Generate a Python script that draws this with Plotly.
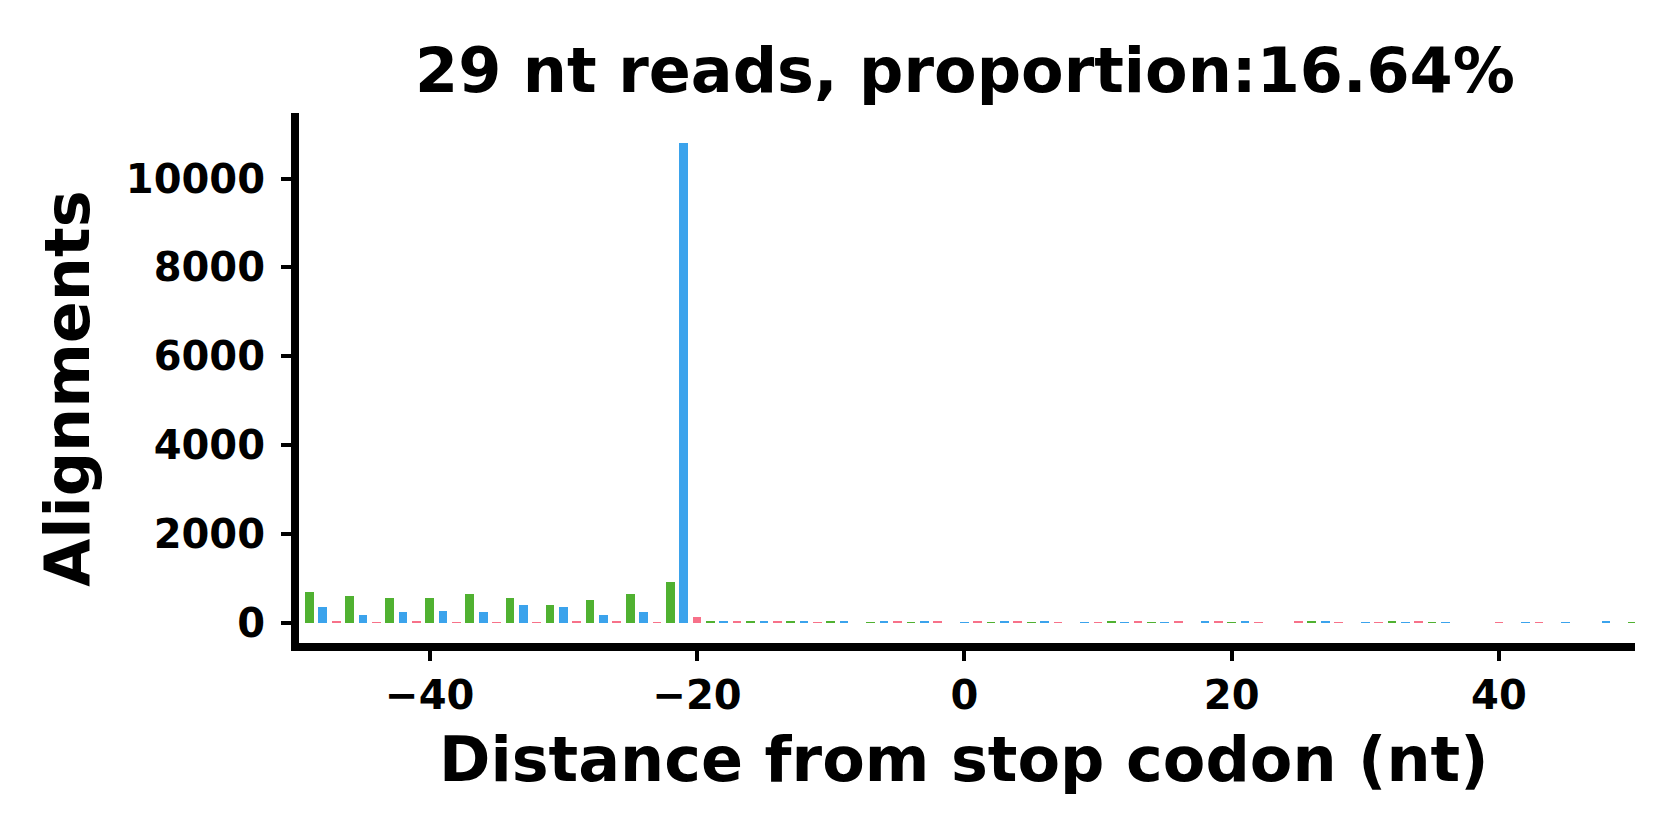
import plotly.graph_objects as go

positions = list(range(-50, 51))
counts = [
    0,                                   # -50
    700, 360, 30, 607, 180, 20, 562, 247, 30, 562,      # -49..-40
    277, 20, 652, 247, 10, 562, 405, 10, 405, 360,      # -39..-30
    35, 510, 180, 35, 652, 247, 20, 922, 10810, 135,    # -29..-20
    45, 25, 25, 25, 25, 25, 25, 45, 10, 25,             # -19..-10
    25, 0, 10, 25, 25, 10, 25, 25, 0, 10,               # -9..0
    25, 10, 25, 25, 10, 25, 10, 0, 10, 10,              # 1..10
    25, 10, 45, 10, 10, 25, 0, 25, 45, 10,              # 11..20
    25, 10, 0, 0, 25, 25, 25, 10, 0, 10,                # 21..30
    10, 25, 10, 45, 10, 10, 0, 0, 0, 10,                # 31..40
    0, 10, 10, 0, 10, 0, 0, 25, 0, 10,                  # 41..50
]
frame_colors = {2: "#50b131", 0: "#3ba3ec", 1: "#f77189"}

title_text = "29 nt reads, proportion:16.64%"
x_label = "Distance from stop codon (nt)"
y_label = "Alignments"
x_ticks = [-40, -20, 0, 20, 40]
x_ticktext = ["\u221240", "\u221220", "0", "20", "40"]
y_ticks = [0, 2000, 4000, 6000, 8000, 10000]
y_ticktext = ["0", "2000", "4000", "6000", "8000", "10000"]

colors = [frame_colors[p % 3] for p in positions]

FONT = "DejaVu Sans"
TICKSIZE = 40

fig = go.Figure()
fig.add_trace(go.Bar(
    x=positions, y=counts, width=0.65,
    marker=dict(color=colors, line=dict(width=0)),
    showlegend=False,
))

axis_common = dict(
    showline=True, linecolor="black", linewidth=8,
    ticks="outside", ticklen=10, tickwidth=3.5, tickcolor="black",
    showgrid=False, zeroline=False,
    tickfont=dict(family=FONT, size=TICKSIZE, color="black", weight="bold"),
)

# page body has an 8px default margin: compensate in the figure margins
fig.update_layout(
    width=1680, height=840,
    margin=dict(l=291, r=53, t=105, b=205),
    paper_bgcolor="white", plot_bgcolor="white",
    xaxis=dict(range=[-49.78, 50.18], tickvals=x_ticks, ticktext=x_ticktext,
               **axis_common),
    yaxis=dict(range=[-450, 11476], tickvals=y_ticks, ticktext=y_ticktext,
               ticklabelstandoff=8, **axis_common),
    bargap=0,
    annotations=[
        dict(text=title_text, xref="paper", yref="paper", x=0.4985, y=1.0802,
             xanchor="center", yanchor="middle", showarrow=False,
             font=dict(family=FONT, size=62, color="black", weight="bold")),
        dict(text=x_label, xref="paper", yref="paper", x=0.4978, y=-0.2189,
             xanchor="center", yanchor="middle", showarrow=False,
             font=dict(family=FONT, size=62, color="black", weight="bold")),
        dict(text=y_label, xref="paper", yref="paper", x=-0.1735, y=0.480,
             xanchor="center", yanchor="middle", showarrow=False, textangle=-90,
             font=dict(family=FONT, size=62, color="black", weight="bold")),
    ],
)

fig.write_html("out.html")
